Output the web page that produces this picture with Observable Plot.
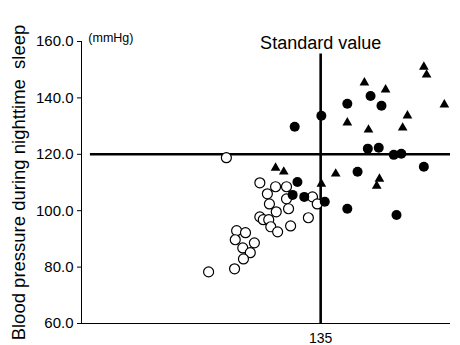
<!DOCTYPE html>
<html>
<head>
<meta charset="utf-8">
<script src="https://cdn.jsdelivr.net/npm/d3@7"></script>
<script src="https://cdn.jsdelivr.net/npm/@observablehq/plot@0.6"></script>
<style>
  html, body { margin: 0; padding: 0; background: #fff; }
  #chart { width: 460px; height: 345px; }
</style>
</head>
<body>
<div id="chart"></div>
<script>
// Open circles
const openX = [121.2,126.1,128.4,130.0,127.2,130.0,133.8,134.5,127.5,130.3,128.5,126.1,126.6,127.4,127.7,128.7,130.6,133.2,122.7,124.0,122.5,125.3,123.6,124.7,123.7,118.6,122.4];
const openY = [118.8,109.9,108.5,108.5,106.0,104.2,104.9,102.4,102.4,100.7,99.6,97.8,96.8,96.8,94.3,92.5,94.6,97.5,92.9,92.2,89.7,88.6,86.8,85.1,82.9,78.3,79.4];
// Filled circles
const filledX = [131.2,131.6,130.9,132.6,135.6,135.1,138.9,142.3,143.9,141.9,143.5,145.7,146.8,140.4,150.1,138.9,146.1];
const filledY = [129.8,110.2,105.6,104.9,103.2,133.7,137.9,140.7,137.2,122.0,122.3,119.8,120.2,113.8,115.6,100.7,98.5];
// Triangles
const triX = [128.4,129.6,135.1,137.2,143.6,143.2,138.9,142.0,147.0,147.7,141.4,144.5,150.1,150.5,153.1];
const triY = [115.2,113.8,109.5,113.1,111.3,108.8,131.2,128.7,129.4,133.7,145.4,142.9,151.0,148.2,137.6];

const yTicks = [60, 80, 100, 120, 140, 160];
const xTicks = [135];
const standardX = 135;
const standardY = 120;
const yLabel = "Blood pressure during nighttime  sleep";
const unitLabel = "(mmHg)";
const standardLabel = "Standard value";

const toRows = (xs, ys) => xs.map((x, i) => ({x, y: ys[i]}));
const openData = toRows(openX, openY);
const filledData = toRows(filledX, filledY);
const triData = toRows(triX, triY);

const font = "'Liberation Sans', Arial, sans-serif";

const chart = Plot.plot({
  width: 460,
  height: 345,
  marginLeft: 81,
  marginRight: 10,
  marginTop: 41,
  marginBottom: 22,
  style: {fontFamily: font, fontSize: "15px", color: "#000", background: "#fff"},
  x: {domain: [100, 154]},
  y: {domain: [60, 160]},
  marks: [
    Plot.axisY({ticks: yTicks, tickFormat: d => d.toFixed(1), tickSize: 4, tickPadding: 4,
      label: yLabel, labelAnchor: "center", labelArrow: "none", labelOffset: 70, fontSize: 15}),
    Plot.axisX({ticks: xTicks, tickSize: 0, tickPadding: 10, label: null, fontSize: 14}),
    Plot.ruleX([100], {stroke: "#000", strokeWidth: 1}),
    Plot.ruleY([60], {stroke: "#000", strokeWidth: 1}),
    Plot.ruleX([standardX], {y1: 60, y2: 155.6, stroke: "#000", strokeWidth: 2.6}),
    Plot.ruleY([standardY], {x1: 101.3, x2: 154, stroke: "#000", strokeWidth: 2.6}),
    Plot.dot(openData, {x: "x", y: "y", r: 5, fill: "#fff", stroke: "#000", strokeWidth: 1.2}),
    Plot.dot(filledData, {x: "x", y: "y", r: 5, fill: "#000", stroke: "none"}),
    Plot.dot(triData, {x: "x", y: "y", r: 3.6, symbol: "triangle", fill: "#000", stroke: "none"}),
    Plot.text([standardLabel], {x: standardX, y: 159.4, text: d => d, fontSize: 18, textAnchor: "middle"}),
    Plot.text([unitLabel], {x: 101.0, y: 161.4, text: d => d, fontSize: 12.5, textAnchor: "start"})
  ]
});
// enlarge the y-axis title only
chart.querySelectorAll("text").forEach(t => {
  if (t.textContent === yLabel) t.setAttribute("font-size", "18.5");
});
document.getElementById("chart").appendChild(chart);
</script>
</body>
</html>
